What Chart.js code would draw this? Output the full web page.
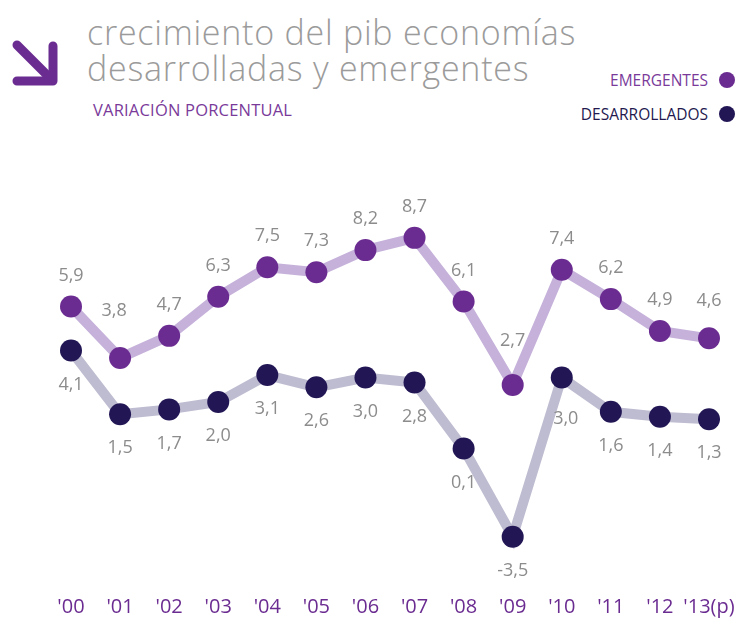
<!DOCTYPE html>
<html lang="es">
<head>
<meta charset="utf-8">
<script src="https://cdn.jsdelivr.net/npm/chart.js@4"></script>
<style>
  html, body { margin: 0; padding: 0; background: #fff; }
  body { width: 738px; height: 619px; position: relative; overflow: hidden; font-family: "Open Sans", sans-serif; }
  #chart { position: absolute; left: 0; top: 0; }
  .arrow { position: absolute; left: 8px; top: 36px; }
  .title { position: absolute; left: 87px; top: 14px; color: #9b9b9b; font-weight: 300; font-size: 34px; line-height: 36px; letter-spacing: 0.75px; }
  .subtitle { position: absolute; left: 93px; top: 98px; color: #7a3a9a; font-size: 16.5px; letter-spacing: 0.2px; }
  .legend { position: absolute; right: 3px; font-size: 15.5px; display: flex; align-items: center; }
  .legend .dot { display: inline-block; width: 16px; height: 16px; border-radius: 50%; margin-left: 11px; }
  .leg-em { top: 69px; color: #7a3a9a; }
  .leg-de { top: 103px; color: #23194f; }
</style>
</head>
<body>
<svg class="arrow" width="56" height="56" viewBox="0 0 56 56">
  <polyline points="9,9 43,43" stroke="#6b2c91" stroke-width="9" stroke-linecap="round" fill="none"/>
  <polyline points="9,45 45,45 45,10" stroke="#6b2c91" stroke-width="9" stroke-linecap="round" stroke-linejoin="round" fill="none"/>
</svg>
<div class="title">crecimiento del pib economías<br>desarrolladas y emergentes</div>
<div class="subtitle">VARIACIÓN PORCENTUAL</div>
<div class="legend leg-em">EMERGENTES<span class="dot" style="background:#6b2c91"></span></div>
<div class="legend leg-de">DESARROLLADOS<span class="dot" style="background:#221655"></span></div>
<canvas id="chart" width="738" height="619"></canvas>
<script>
"use strict";

const years = ["'00", "'01", "'02", "'03", "'04", "'05", "'06", "'07", "'08", "'09", "'10", "'11", "'12", "'13(p)"];
const emergentes = [5.9, 3.8, 4.7, 6.3, 7.5, 7.3, 8.2, 8.7, 6.1, 2.7, 7.4, 6.2, 4.9, 4.6];
const desarrollados = [4.1, 1.5, 1.7, 2.0, 3.1, 2.6, 3.0, 2.8, 0.1, -3.5, 3.0, 1.6, 1.4, 1.3];

// value labels above / below each point, comma as decimal separator
const valueLabels = {
  id: "valueLabels",
  afterDatasetsDraw: function (chart) {
    const ctx = chart.ctx;
    ctx.save();
    ctx.font = "18px 'Open Sans', sans-serif";
    ctx.fillStyle = "#8c8c8c";
    ctx.textAlign = "center";
    ctx.textBaseline = "middle";
    chart.data.datasets.forEach(function (ds, i) {
      const meta = chart.getDatasetMeta(i);
      const nudge = ds.labelNudge || {};
      meta.data.forEach(function (pt, j) {
        const txt = ds.data[j].toFixed(1).replace(".", ",");
        const n = nudge[j] || [0, 0];
        ctx.fillText(txt, pt.x + n[0], pt.y + ds.labelOffset + n[1]);
      });
    });
    ctx.restore();
  }
};

new Chart(document.getElementById("chart").getContext("2d"), {
  type: "line",
  data: {
    labels: years,
    datasets: [
      {
        label: "Emergentes",
        data: emergentes,
        borderColor: "#c5b1da",
        borderWidth: 10,
        pointBackgroundColor: "#6b2c91",
        pointBorderWidth: 0,
        pointRadius: 11,
        pointHoverRadius: 11,
        tension: 0,
        labelOffset: -31,
        labelNudge: { 1: [-6, -16], 9: [0, -13], 13: [0, -6] }
      },
      {
        label: "Desarrollados",
        data: desarrollados,
        borderColor: "#bebcd0",
        borderWidth: 10,
        pointBackgroundColor: "#221655",
        pointBorderWidth: 0,
        pointRadius: 11,
        pointHoverRadius: 11,
        tension: 0,
        labelOffset: 34,
        labelNudge: { 10: [4, 7] }
      }
    ]
  },
  options: {
    responsive: false,
    animation: false,
    layout: { padding: { left: 71, right: 29, top: 157, bottom: 0 } },
    plugins: { legend: { display: false }, tooltip: { enabled: false } },
    scales: {
      y: { display: false, min: -4.61, max: 12 },
      x: {
        offset: false,
        grid: { display: false, drawTicks: false },
        border: { display: false },
        afterFit: function (scale) {
          scale.height = 55;
          scale.paddingLeft = 0;
          scale.paddingRight = 0;
        },
        ticks: {
          color: "#6b2c91",
          font: { family: "'Open Sans', sans-serif", size: 20 },
          padding: 31,
          autoSkip: false,
          maxRotation: 0
        }
      }
    }
  },
  plugins: [valueLabels]
});
</script>
</body>
</html>
